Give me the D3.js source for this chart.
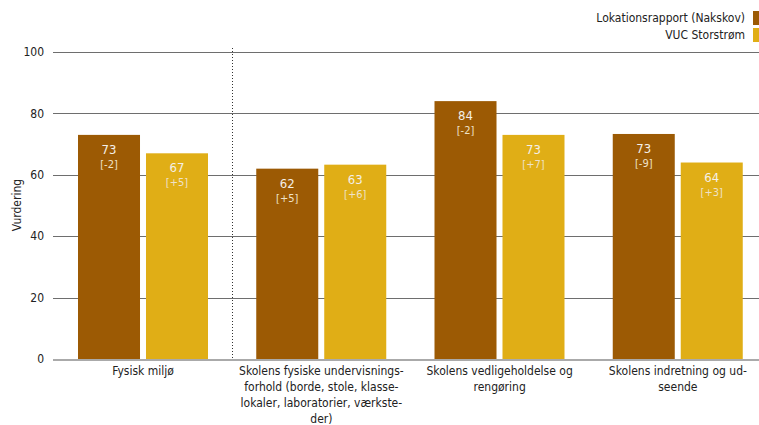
<!DOCTYPE html>
<html><head><meta charset="utf-8">
<script src="https://cdn.jsdelivr.net/npm/d3@7/dist/d3.min.js"></script>
<style>body{margin:0;background:#fff;} svg{display:block;font-family:"DejaVu Sans Condensed","Liberation Sans",sans-serif;}</style>
</head><body><svg id="c" width="759" height="425"></svg>
<script>
const categories = ["Fysisk miljø","Skolens fysiske undervisningsforhold","Skolens vedligeholdelse og rengøring","Skolens indretning og udseende"];
const categoryLines = [["Fysisk miljø"],["Skolens fysiske undervisnings-","forhold (borde, stole, klasse-","lokaler, laboratorier, værkste-","der)"],["Skolens vedligeholdelse og","rengøring"],["Skolens indretning og ud-","seende"]];
const seriesNames = ["Lokationsrapport (Nakskov)","VUC Storstrøm"];
const nakskov = [73,62,84,73.3];
const storstrom = [67,63.3,73,64];
const nakskovChange = ["[-2]","[+5]","[-2]","[-9]"];
const storstromChange = ["[+5]","[+6]","[+7]","[+3]"];
const nakskovLabel = ["73","62","84","73"];
const storstromLabel = ["67","63","73","64"];
const yTicks = [0,20,40,60,80,100];
const colors = ["#9C5A04","#E0AE16"];

const svg = d3.select("#c");
const y = d3.scaleLinear().domain([0,100]).range([359,52]);
const x = d3.scaleBand().domain(categories).range([54,767]);
const xs = d3.scaleBand().domain([0,1]).range([24,154]).paddingInner(0.088).paddingOuter(0);

// grid
svg.append("g").selectAll("line").data(yTicks.filter(d=>d>0)).join("line")
  .attr("x1",53).attr("x2",759).attr("y1",d=>Math.round(y(d))+0.5).attr("y2",d=>Math.round(y(d))+0.5)
  .attr("stroke","#6e6e6e").attr("stroke-width",1);
// y tick labels
svg.append("g").selectAll("text").data(yTicks).join("text")
  .attr("x",44).attr("y",d=>y(d)).attr("dy","0.35em").attr("text-anchor","end")
  .attr("font-size",12).attr("fill","#222").text(d=>d);
// y title
svg.append("text").attr("transform","translate(21,205) rotate(-90)").attr("text-anchor","middle")
  .attr("font-size",12).attr("fill","#222").text("Vurdering");
// dotted separator
svg.append("line").attr("x1",232.5).attr("x2",232.5).attr("y1",48).attr("y2",359)
  .attr("stroke","#333").attr("stroke-dasharray","1,2").attr("stroke-width",1);

const series = [
  {vals:nakskov, lab:nakskovLabel, ch:nakskovChange},
  {vals:storstrom, lab:storstromLabel, ch:storstromChange}
];
series.forEach((s,si)=>{
  const g = svg.append("g");
  categories.forEach((c,i)=>{
    const bx = x(c)+xs(si), bw = xs.bandwidth(), top = y(s.vals[i]);
    g.append("rect").attr("x",bx).attr("y",top).attr("width",bw).attr("height",y(0)-top).attr("fill",colors[si]);
    g.append("text").attr("x",bx+bw/2).attr("y",top+19).attr("text-anchor","middle")
      .attr("font-size",13).attr("fill","#f4f0e8").text(s.lab[i]);
    g.append("text").attr("x",bx+bw/2).attr("y",top+33).attr("text-anchor","middle")
      .attr("font-size",11).attr("fill","#efe2c8").text(s.ch[i]);
  });
});
// baseline
svg.append("line").attr("x1",53).attr("x2",759).attr("y1",360).attr("y2",360).attr("stroke","#aaaaaa").attr("stroke-width",2);

// category labels
categories.forEach((c,i)=>{
  const t = svg.append("text").attr("text-anchor","middle").attr("font-size",12).attr("fill","#222");
  categoryLines[i].forEach((ln,j)=>{
    t.append("tspan").attr("x",x(c)+x.bandwidth()/2).attr("y",375+j*16).text(ln);
  });
});

// legend
seriesNames.forEach((n,i)=>{
  svg.append("rect").attr("x",753).attr("y",11+i*17).attr("width",10).attr("height",14).attr("fill",colors[i]);
  svg.append("text").attr("x",745).attr("y",18+i*17).attr("dy","0.35em").attr("text-anchor","end")
    .attr("font-size",12).attr("fill","#222").text(n);
});
</script></body></html>
